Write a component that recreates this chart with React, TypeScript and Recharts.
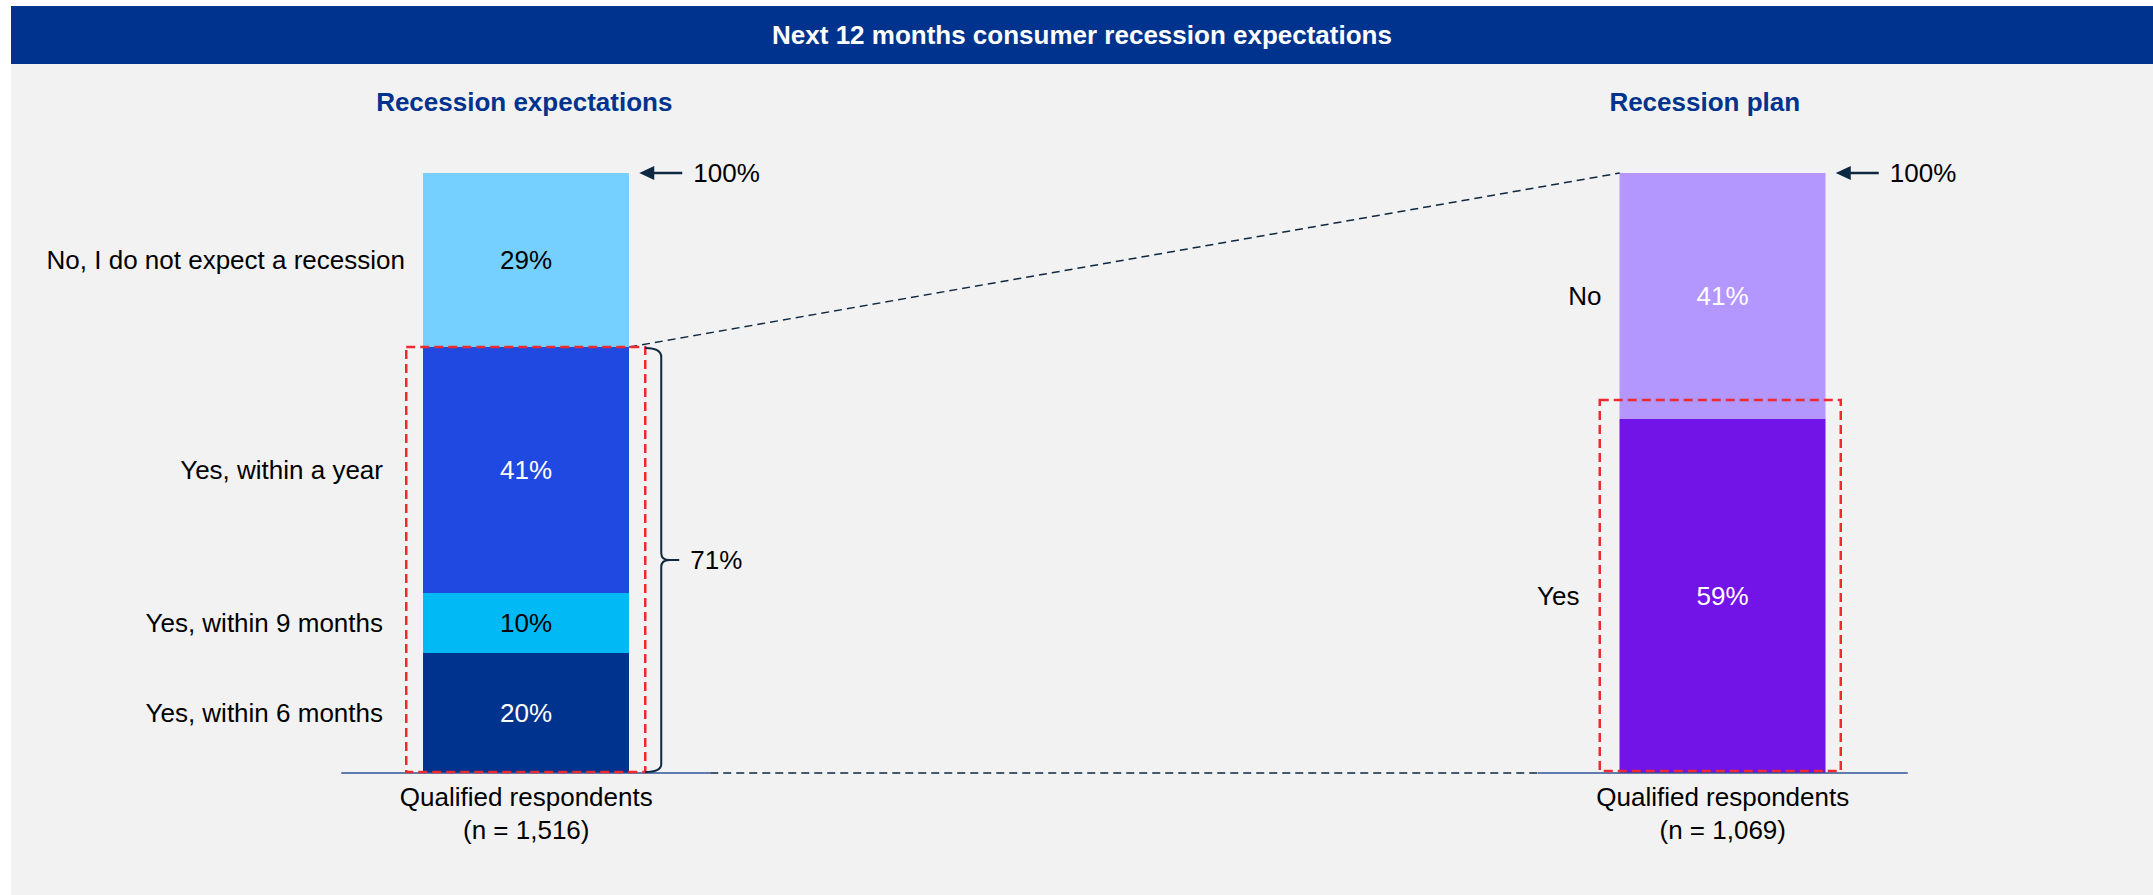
import { BarChart, Bar, XAxis, YAxis, ReferenceLine, ReferenceArea, ReferenceDot } from "recharts";

const HEADER = "Next 12 months consumer recession expectations";
const SECTION_KEYS = ["expect", "plan"];
const SECTION_TITLES = ["Recession expectations", "Recession plan"];
const BASE_LABEL = "Qualified respondents";
const RESPONDENTS = [1516, 1069];

// bottom -> top
const EXPECT_LABELS = ["Yes, within 6 months", "Yes, within 9 months", "Yes, within a year", "No, I do not expect a recession"];
const EXPECT_VALUES = [20, 10, 41, 29];
const EXPECT_COLORS = ["#00338D", "#00B9F5", "#1F49E1", "#76D0FF"];
const EXPECT_TEXT = ["#ffffff", "#000000", "#ffffff", "#000000"];

const PLAN_LABELS = ["Yes", "No"];
const PLAN_VALUES = [59, 41];
const PLAN_COLORS = ["#7213E8", "#B397FF"];
const PLAN_TEXT = ["#ffffff", "#ffffff"];

const NAVY = "#00338D";
const INK = "#0E2841";
const RED = "#EE2A2F";
const FONT = '"Liberation Sans", Arial, sans-serif';
const FS = 26;
const BAR = 206;

type Serie = { key: string; label: string; value: number; section: number; fill: string; text: string; yes: boolean };

const SERIES: Serie[] = [
  ...EXPECT_LABELS.map((label, i) => ({
    key: `e${i}`, label, value: EXPECT_VALUES[i], section: 0,
    fill: EXPECT_COLORS[i], text: EXPECT_TEXT[i], yes: label.startsWith("Yes"),
  })),
  ...PLAN_LABELS.map((label, i) => ({
    key: `p${i}`, label, value: PLAN_VALUES[i], section: 1,
    fill: PLAN_COLORS[i], text: PLAN_TEXT[i], yes: label.startsWith("Yes"),
  })),
];

const rows = SECTION_KEYS.map((section, s) => {
  const row: Record<string, string | number> = { section, title: SECTION_TITLES[s] };
  SERIES.forEach((sr) => {
    row[sr.key] = sr.section === s ? sr.value : 0;
  });
  return row;
});

const totals = SECTION_KEYS.map((_, s) => SERIES.filter((sr) => sr.section === s).reduce((a, b) => a + b.value, 0));
const yesSums = SECTION_KEYS.map((_, s) =>
  SERIES.filter((sr) => sr.section === s && sr.yes).reduce((a, b) => a + b.value, 0)
);

// red box padding round the "yes" part, per section
const BOX_PAD = [
  { l: 17, r: 16, t: 0, b: 1 },
  { l: 20, r: 15, t: 19, b: 2 },
];

function segmentShape(sr: Serie) {
  return (p: any) => {
    const v = p.payload?.[sr.key];
    if (!v) return <g />;
    const { x, y, width, height } = p;
    const cy = y + height / 2;
    return (
      <g>
        <rect x={x} y={y} width={width} height={height} fill={sr.fill} />
        <text x={x + width / 2} y={cy} dy=".35em" textAnchor="middle" fill={sr.text} fontSize={FS}>
          {v}%
        </text>
        <text x={x - (sr.yes ? 40 : 18)} y={cy} dy=".35em" textAnchor="end" fill="#000" fontSize={FS}>
          {sr.label}
        </text>
      </g>
    );
  };
}

function arrowShape(s: number) {
  return (p: any) => {
    const x0 = p.cx + BAR / 2;
    const y0 = p.cy;
    return (
      <g>
        <line x1={x0 + 22} y1={y0} x2={x0 + 53} y2={y0} stroke={INK} strokeWidth={2.5} />
        <path d={`M${x0 + 10},${y0} L${x0 + 25},${y0 - 7} L${x0 + 25},${y0 + 7} Z`} fill={INK} />
        <text x={x0 + 64} y={y0} dy=".35em" fontSize={FS} fill="#000">
          {totals[s]}%
        </text>
      </g>
    );
  };
}

function highlightShape(s: number) {
  return (p: any) => {
    const cx = p.x + p.width / 2;
    const L = cx - BAR / 2;
    const R = cx + BAR / 2;
    const pad = BOX_PAD[s];
    const top = p.y - pad.t;
    const bot = p.y + p.height - pad.b;
    const mid = p.y + p.height / 2;
    const bx = R + 32;
    return (
      <g>
        <rect
          x={L - pad.l}
          y={top}
          width={BAR + pad.l + pad.r}
          height={bot - top}
          fill="none"
          stroke={RED}
          strokeWidth={2.5}
          strokeDasharray="9 5"
        />
        {s === 0 && (
          <g>
            <path
              d={`M${R + 16},${p.y + 1} Q${bx},${p.y + 1} ${bx},${p.y + 10} L${bx},${mid - 7} Q${bx},${mid} ${bx + 8},${mid} Q${bx},${mid} ${bx},${mid + 7} L${bx},${bot - 8} Q${bx},${bot} ${R + 16},${bot}`}
              fill="none"
              stroke={INK}
              strokeWidth={2}
            />
            <line x1={bx + 6} y1={mid} x2={R + 50} y2={mid} stroke={INK} strokeWidth={2} />
            <text x={R + 61} y={mid} dy=".35em" fontSize={FS} fill="#000">
              {yesSums[0]}%
            </text>
          </g>
        )}
      </g>
    );
  };
}

const connectorShape = (p: any) => (
  <line
    x1={p.x1 + BAR / 2}
    y1={p.y1}
    x2={p.x2 - BAR / 2}
    y2={p.y2}
    stroke={INK}
    strokeWidth={1.5}
    strokeDasharray="8 5"
  />
);

const baselineShape = (p: any) => {
  const a = p.x1 - BAR / 2 - 82;
  const b = p.x1 + BAR / 2 + 81;
  const c = p.x2 - BAR / 2 - 82;
  const d = p.x2 + BAR / 2 + 82;
  return (
    <g>
      <line x1={a} y1={p.y1} x2={b} y2={p.y1} stroke="#2F5597" strokeWidth={1.5} />
      <line x1={b} y1={p.y1} x2={c} y2={p.y1} stroke={INK} strokeWidth={1.5} strokeDasharray="8 5" />
      <line x1={c} y1={p.y1} x2={d} y2={p.y1} stroke="#2F5597" strokeWidth={1.5} />
    </g>
  );
};

const respondentTick = (p: any) => {
  const s = SECTION_KEYS.indexOf(p.payload?.value);
  return (
    <g>
      <text x={p.x} y={p.y + 24} dy=".35em" textAnchor="middle" fontSize={FS} fill="#000">
        {BASE_LABEL}
      </text>
      <text x={p.x} y={p.y + 57} dy=".35em" textAnchor="middle" fontSize={FS} fill="#000">
        (n = {RESPONDENTS[s]?.toLocaleString("en-US")})
      </text>
    </g>
  );
};

const TITLE_SHIFT = [-2, -18];
const titleTick = (p: any) => {
  const s = SECTION_TITLES.indexOf(p.payload?.value);
  return (
    <text x={p.x + (TITLE_SHIFT[s] ?? 0)} y={p.y - 71} dy=".35em" textAnchor="middle" fontSize={FS} fontWeight="bold" fill={NAVY}>
      {p.payload?.value}
    </text>
  );
};

export default function App() {
  return (
    <div
      style={{
        position: "absolute",
        left: 11,
        top: 6,
        width: 2142,
        height: 889,
        overflow: "hidden",
        background: "#F2F2F2",
        fontFamily: FONT,
      }}
    >
      <div
        style={{
          position: "absolute",
          left: 0,
          top: 0,
          width: "100%",
          height: 58,
          lineHeight: "58px",
          background: NAVY,
          color: "#fff",
          fontWeight: "bold",
          fontSize: FS,
          textAlign: "center",
        }}
      >
        {HEADER}
      </div>
      <div style={{ position: "absolute", left: -183, top: 0 }}>
        <BarChart width={2523} height={889} data={rows} margin={{ top: 67, right: 30, bottom: 22, left: 100 }}>
          <XAxis
            dataKey="section"
            height={100}
            axisLine={false}
            tickLine={false}
            tickSize={0}
            tickMargin={0}
            interval={0}
            tick={respondentTick}
          />
          <XAxis
            xAxisId="top"
            orientation="top"
            dataKey="title"
            height={100}
            axisLine={false}
            tickLine={false}
            tickSize={0}
            tickMargin={0}
            interval={0}
            tick={titleTick}
          />
          <YAxis hide domain={[0, 100]} />
          <ReferenceLine
            segment={[{ x: "expect", y: yesSums[0] }, { x: "plan", y: totals[1] }]}
            shape={connectorShape}
          />
          <ReferenceLine segment={[{ x: "expect", y: 0 }, { x: "plan", y: 0 }]} shape={baselineShape} />
          {SERIES.map((sr) => (
            <Bar
              key={sr.key}
              dataKey={sr.key}
              stackId="s"
              barSize={BAR}
              fill={sr.fill}
              isAnimationActive={false}
              shape={segmentShape(sr)}
            />
          ))}
          {SECTION_KEYS.map((k, s) => (
            <ReferenceArea
              key={`box-${k}`}
              x1={k}
              x2={k}
              y1={0}
              y2={yesSums[s]}
              shape={highlightShape(s)}
              zIndex={2500}
            />
          ))}
          {SECTION_KEYS.map((k, s) => (
            <ReferenceDot key={`arrow-${k}`} x={k} y={totals[s]} shape={arrowShape(s)} zIndex={2500} />
          ))}
        </BarChart>
      </div>
    </div>
  );
}
